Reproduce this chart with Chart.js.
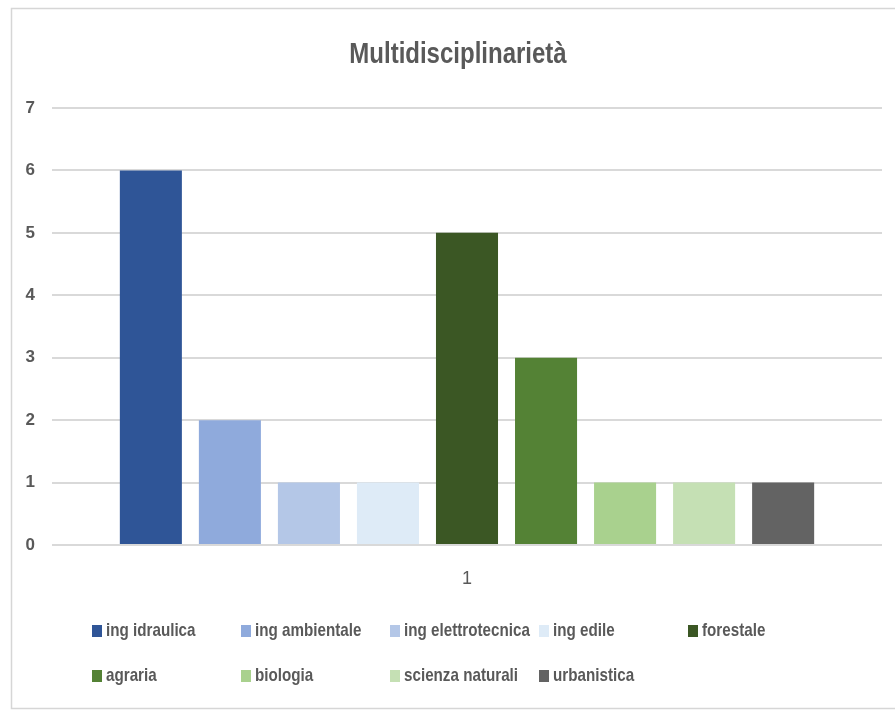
<!DOCTYPE html>
<html>
<head>
<meta charset="utf-8">
<title>Multidisciplinarietà</title>
<script src="https://cdn.jsdelivr.net/npm/chart.js@4"></script>
<style>
  html, body { margin: 0; padding: 0; background: #ffffff; }
  canvas { display: block; }
</style>
</head>
<body>
<canvas id="chart" width="895" height="712"></canvas>
<script>
// Category and series data
const categories = ['1'];
const seriesNames = [
  'ing idraulica', 'ing ambientale', 'ing elettrotecnica', 'ing edile',
  'forestale', 'agraria', 'biologia', 'scienza naturali', 'urbanistica'
];
const seriesValues = [6, 2, 1, 1, 5, 3, 1, 1, 1];
const yTicks = [0, 1, 2, 3, 4, 5, 6, 7];
const chartTitle = 'Multidisciplinarietà';

// Palette, one colour per series
const palette = [
  '#2F5597', '#8FAADC', '#B4C7E7', '#DEEBF7',
  '#3B5724', '#548235', '#A9D18E', '#C5E0B4', '#636363'
];

const FONT = "'Liberation Sans', Arial, sans-serif";
const TEXT = '#595959';
const NARROW = 0.8; // horizontal squeeze for a condensed look

// Draws text condensed horizontally around its anchor point
function narrowText(ctx, text, x, y, align) {
  ctx.save();
  ctx.translate(x, y);
  ctx.scale(NARROW, 1);
  ctx.textAlign = align;
  ctx.fillText(text, 0, 0);
  ctx.restore();
}

// Frame, title and a fixed-column legend drawn on the canvas
const decorations = {
  id: 'decorations',
  beforeDraw(chart) {
    const ctx = chart.ctx;
    ctx.save();
    ctx.fillStyle = '#ffffff';
    ctx.fillRect(0, 0, chart.width, chart.height);
    ctx.strokeStyle = '#d6d6d6';
    ctx.lineWidth = 1.5;
    ctx.strokeRect(11.5, 8.5, chart.width + 20, 700);
    ctx.restore();
  },
  afterDraw(chart) {
    const ctx = chart.ctx;
    ctx.save();
    // title
    ctx.fillStyle = TEXT;
    ctx.font = `bold 30px ${FONT}`;
    ctx.textBaseline = 'middle';
    narrowText(ctx, chartTitle, 458, 55, 'center');

    // legend: five columns, two rows
    const colX = 92, colW = 149, rowY = [631, 676];
    ctx.font = `bold 19px ${FONT}`;
    chart.data.datasets.forEach((ds, i) => {
      const col = i % 5, row = Math.floor(i / 5);
      const x = colX + col * colW;
      const y = rowY[row];
      ctx.fillStyle = ds.backgroundColor;
      ctx.fillRect(x, y - 6, 10, 12);
      ctx.fillStyle = TEXT;
      narrowText(ctx, ds.label, x + 14, y, 'left');
    });
    ctx.restore();
  }
};

const datasets = seriesNames.map((name, i) => ({
  label: name,
  data: [seriesValues[i]],
  backgroundColor: palette[i],
  borderWidth: 0,
  categoryPercentage: 0.857,
  barPercentage: 0.785
}));

new Chart(document.getElementById('chart'), {
  type: 'bar',
  data: { labels: categories, datasets },
  plugins: [decorations],
  options: {
    responsive: false,
    animation: false,
    layout: { padding: { top: 108, left: 12, right: 13, bottom: 107 } },
    plugins: {
      legend: { display: false },
      title: { display: false },
      tooltip: { enabled: false }
    },
    scales: {
      x: {
        grid: { display: false, drawTicks: false },
        border: { display: false },
        ticks: {
          color: TEXT,
          font: { family: FONT, size: 18 },
          padding: 23
        },
        afterFit(scale) { scale.height = 60; }
      },
      y: {
        min: 0,
        max: 7,
        afterBuildTicks(scale) { scale.ticks = yTicks.map(v => ({ value: v })); },
        grid: { color: '#d9d9d9', lineWidth: 2, drawTicks: false },
        border: { display: false },
        ticks: {
          color: TEXT,
          font: { family: FONT, size: 17, weight: 'bold' },
          padding: 17
        },
        afterFit(scale) { scale.width = 40; }
      }
    }
  }
});
</script>
</body>
</html>
